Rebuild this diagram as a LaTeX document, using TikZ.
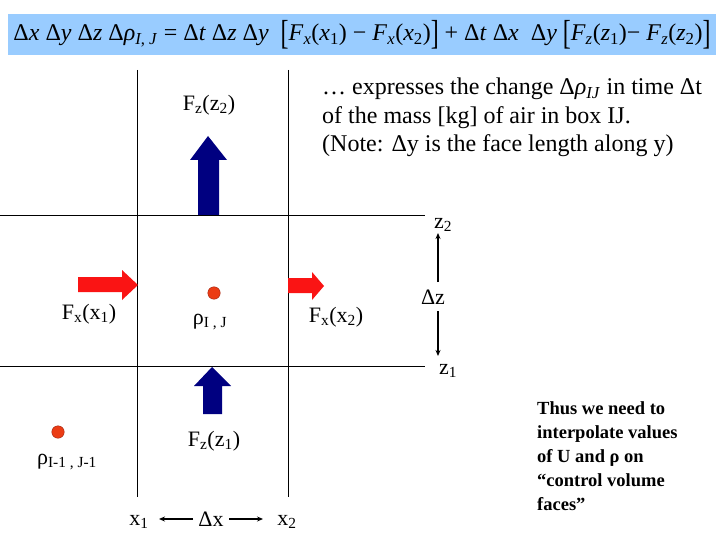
\documentclass[tikz,border=0pt]{standalone}
\usepackage{fontspec}
\setmainfont{Liberation Serif}
\usetikzlibrary{arrows.meta}
\definecolor{banner}{RGB}{153,204,255}
\definecolor{navyarrow}{RGB}{0,0,128}
\definecolor{redarrow}{RGB}{250,20,20}
\definecolor{dotfill}{RGB}{235,60,20}
\definecolor{dotline}{RGB}{160,40,20}
\newcommand{\sbs}[1]{\textsubscript{#1}}
\newcommand{\bigbr}[1]{\raisebox{-0.18em}{\scalebox{1}[1.45]{#1}}}
\tikzset{
  lbl/.style={inner sep=0pt, font=\fontsize{22}{24}\selectfont},
  gridline/.style={line width=0.8pt, black},
  thin arrow/.style={line width=1.1pt, -{Stealth[length=6pt,width=5pt]}},
  reddot/.style={circle, fill=dotfill, draw=dotline, line width=0.4pt, minimum size=12.5pt, inner sep=0pt}
}
\begin{document}
\begin{tikzpicture}[x=1pt,y=-1pt]
\useasboundingbox (0,0) rectangle (720,540);
% banner
\fill[banner] (8,14) rectangle (716,55);
\node[inner sep=0pt] (eq) at (362,35) {\resizebox{697pt}{!}{\fontsize{24}{26}\selectfont
Δ\textit{x} Δ\textit{y} Δ\textit{z} Δ\textit{ρ}\sbs{\textit{I}, \textit{J}} = Δ\textit{t} Δ\textit{z} Δ\textit{y}\ \ \bigbr{[}\textit{F}\sbs{\textit{x}}(\textit{x}\sbs{1}) − \textit{F}\sbs{\textit{x}}(\textit{x}\sbs{2})\bigbr{]} + Δ\textit{t} Δ\textit{x}\ \ Δ\textit{y} \bigbr{[}\textit{F}\sbs{\textit{z}}(\textit{z}\sbs{1})− \textit{F}\sbs{\textit{z}}(\textit{z}\sbs{2})\bigbr{]}}};
% grid
\coordinate (v1t) at (137,70); \coordinate (v1b) at (137,497);
\coordinate (v2t) at (288,70); \coordinate (v2b) at (288,497);
\coordinate (h1l) at (0,215); \coordinate (h1r) at (425,215);
\coordinate (h2l) at (0,366); \coordinate (h2r) at (425,366);
\draw[gridline] (v1t) -- (v1b);
\draw[gridline] (v2t) -- (v2b);
\draw[gridline] (h1l) -- (h1r);
\draw[gridline] (h2l) -- (h2r);
% blue arrows
\fill[navyarrow] (198,215) -- (198,160) -- (190,160) -- (208,136) -- (227,160) -- (219,160) -- (219,215) -- cycle;
\fill[navyarrow] (203,414) -- (203,386) -- (194,386) -- (212,367) -- (231,386) -- (222,386) -- (222,414) -- cycle;
% red arrows
\fill[redarrow] (78,277) -- (122,277) -- (122,270) -- (138,285) -- (122,300) -- (122,292) -- (78,292) -- cycle;
\fill[redarrow] (288,278) -- (312,278) -- (312,272) -- (324,286) -- (312,300) -- (312,293) -- (288,293) -- cycle;
% dots
\node[reddot] (dotIJ) at (214,293) {};
\node[reddot] (dotIm) at (58,432) {};
% labels
\node[lbl] (fz2) at (209,105) {F\sbs{z}(z\sbs{2})};
\node[lbl] (fx1) at (89,314) {F\sbs{x}(x\sbs{1})};
\node[lbl] (fx2) at (336,317) {F\sbs{x}(x\sbs{2})};
\node[lbl] (rhoIJ) at (210,322) {ρ\sbs{I , J}};
\node[lbl] (fz1) at (214,441) {F\sbs{z}(z\sbs{1})};
\node[lbl] (rhoIm) at (67,462) {ρ\sbs{I-1 , J-1}};
\node[lbl] (z2) at (443,225) {z\sbs{2}};
\node[lbl] (z1) at (448,371) {z\sbs{1}};
\node[lbl] (dz) at (433,297) {Δz};
\node[lbl] (x1) at (139,522) {x\sbs{1}};
\node[lbl] (dx) at (211,519) {Δx};
\node[lbl] (x2) at (287,522) {x\sbs{2}};
% thin arrows
\coordinate (dzup) at (438,233);
\coordinate (dzdn) at (438,356);
\coordinate (dzs1) at (438,282);
\coordinate (dzs2) at (438,311);
\draw[thin arrow] (dzs1) -- (dzup);
\draw[thin arrow] (dzs2) -- (dzdn);
\coordinate (dxl) at (159,519);
\coordinate (dxr) at (263,519);
\coordinate (dxs1) at (193,519);
\coordinate (dxs2) at (229,519);
\draw[thin arrow] (dxs1) -- (dxl);
\draw[thin arrow] (dxs2) -- (dxr);
% text blocks
\node[inner sep=0pt, anchor=north west, align=left, font=\fontsize{24}{28.5}\selectfont] (note) at (322,78) {%
… expresses the change Δ\textit{ρ}\sbs{\textit{IJ}} in time Δt\\
of the mass [kg] of air in box IJ.\\
(Note: Δy is the face length along y)};
\node[inner sep=0pt, anchor=north west, align=left, font=\fontsize{18.5}{24}\selectfont\bfseries] (thus) at (537,401) {%
Thus we need to\\
interpolate values\\
of U and ρ on\\
“control volume\\
faces”};
\end{tikzpicture}
\end{document}
